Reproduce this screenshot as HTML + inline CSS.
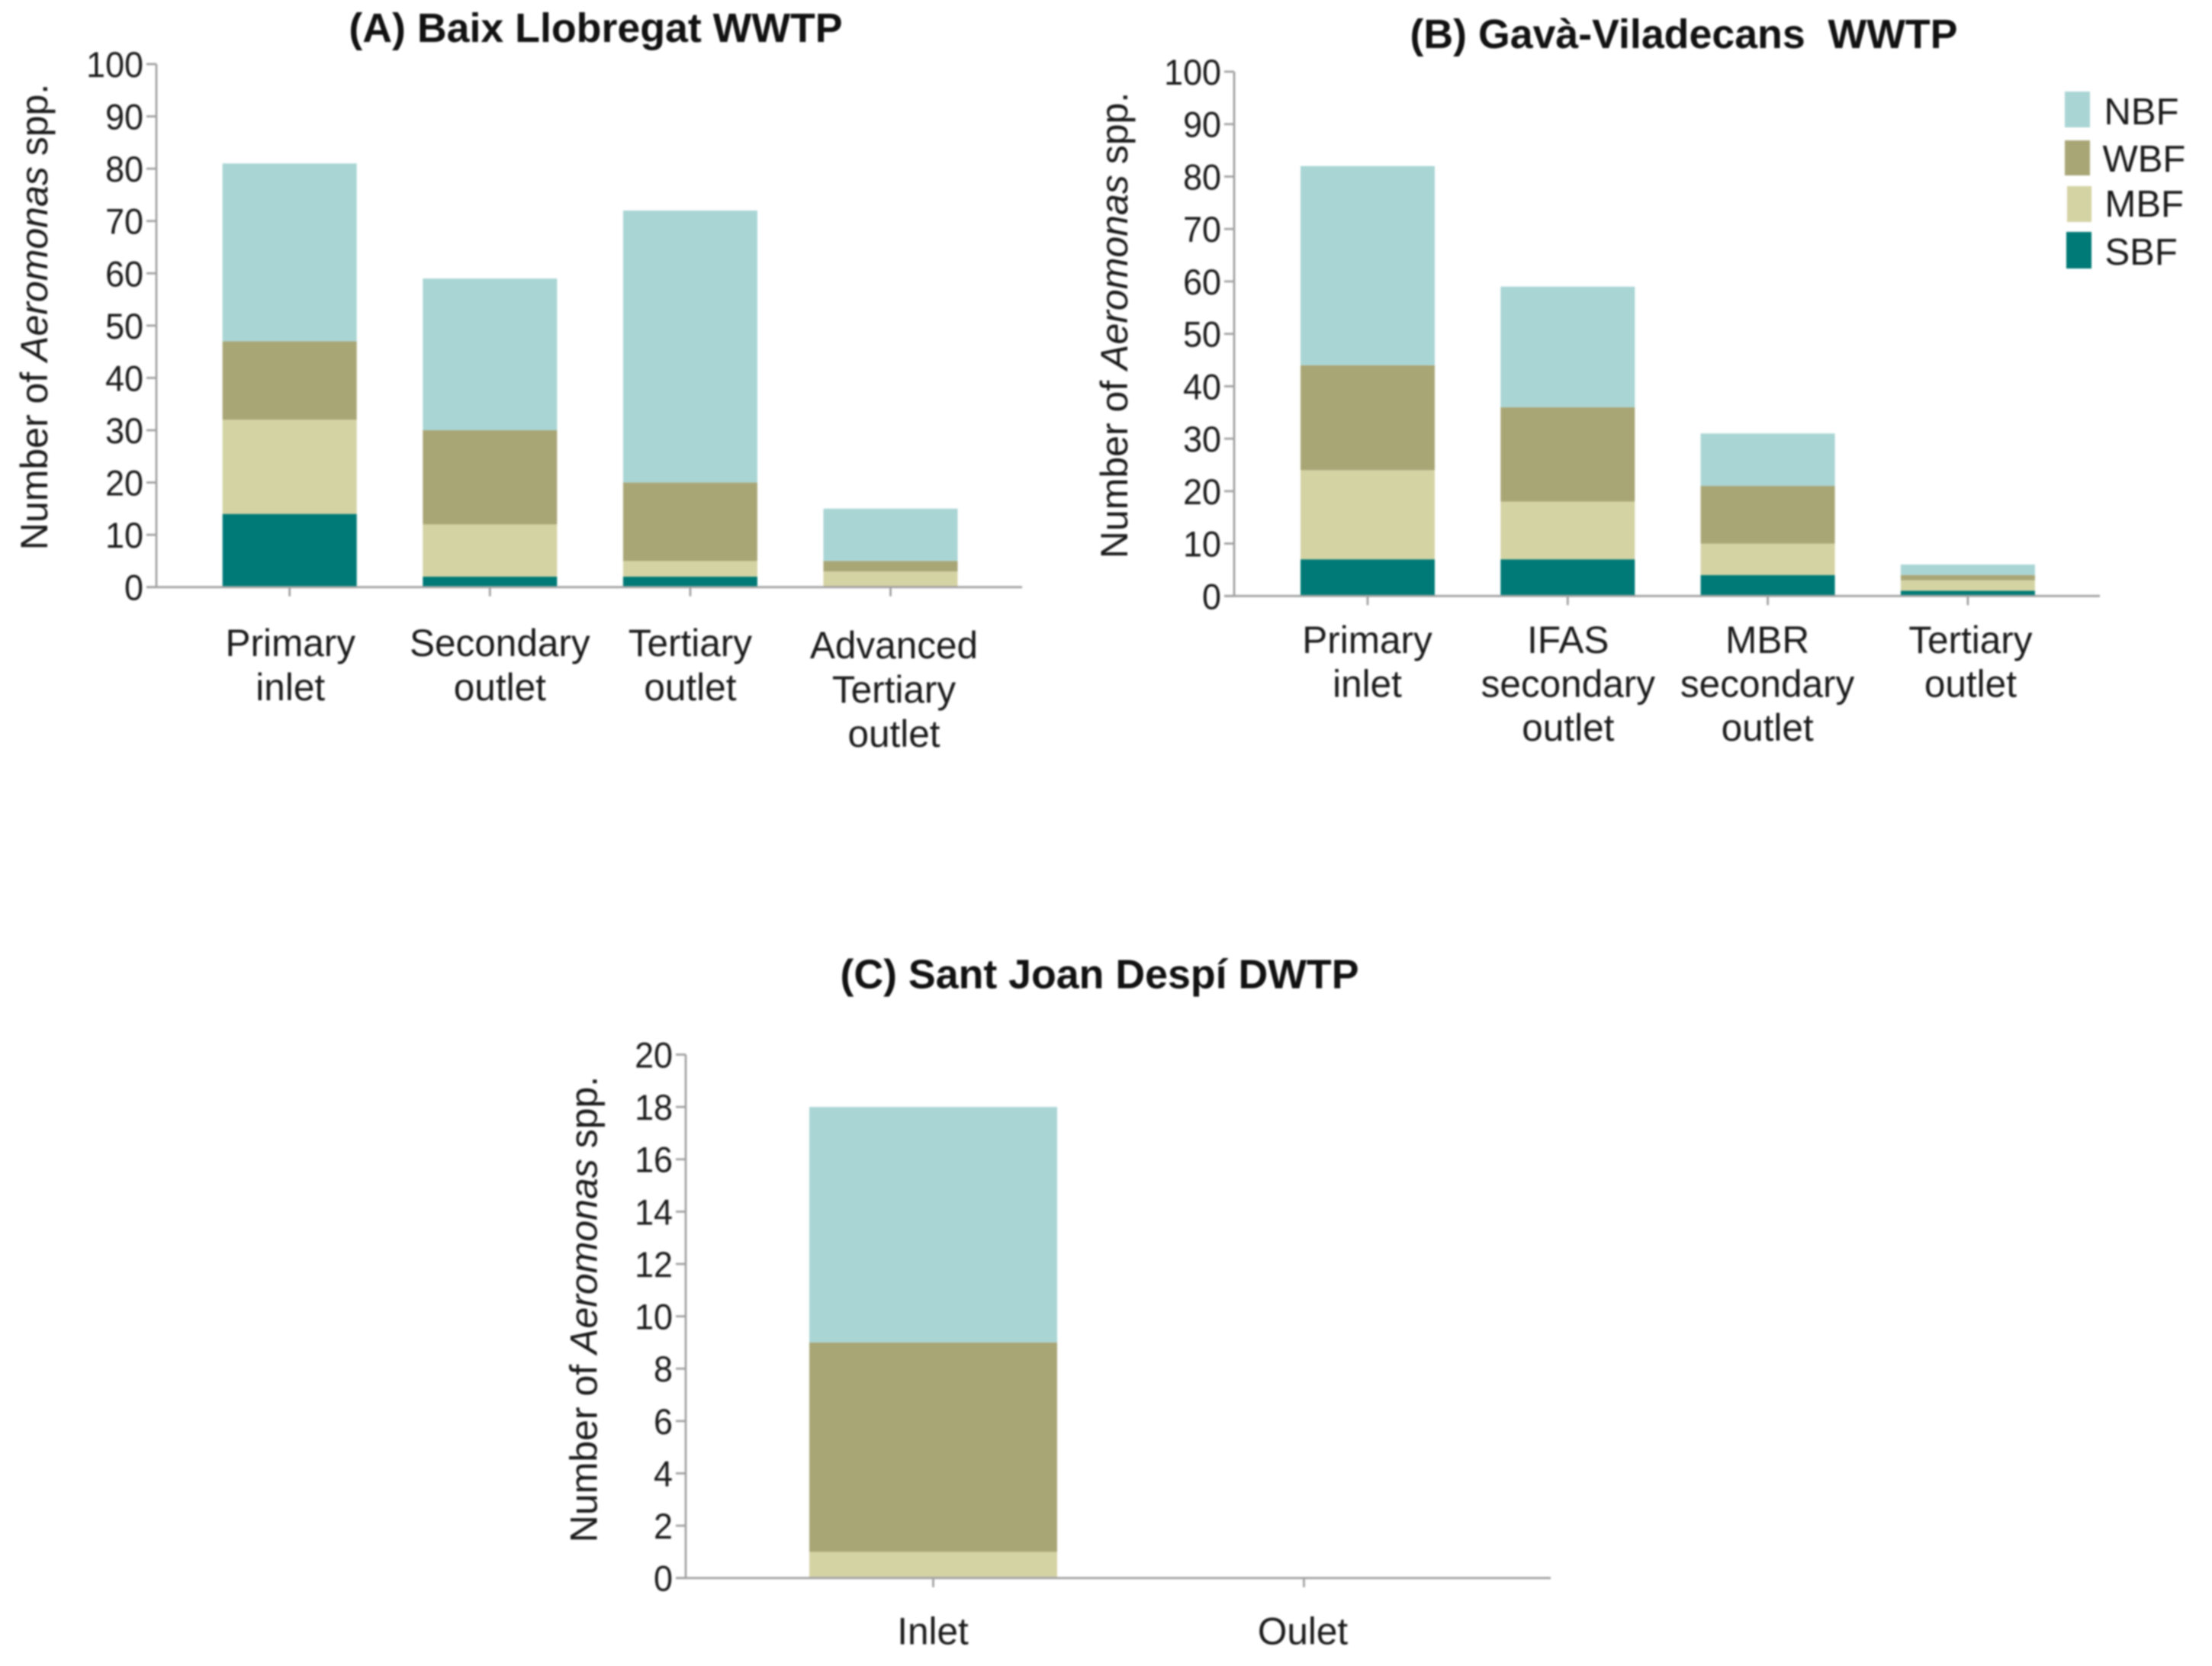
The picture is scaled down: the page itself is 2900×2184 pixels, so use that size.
<!DOCTYPE html>
<html lang="en">
<head>
<meta charset="utf-8">
<title>Aeromonas spp. biofilm formers by treatment stage</title>
<style>
  html, body { margin: 0; padding: 0; background: #fff; }
  #figure { display: block; width: 2900px; height: 2184px; filter: blur(1.1px); }
  text { font-family: "Liberation Sans", sans-serif; fill: #1a1a1a; }
  .title { font-size: 53.7px; font-weight: 700; text-anchor: middle; fill: #111; }
  .ylabel { font-size: 50px; text-anchor: middle; }
  .legend-text { font-size: 49px; }
</style>
</head>
<body>
<svg id="figure" xmlns="http://www.w3.org/2000/svg" width="2900" height="2184" viewBox="0 0 2900 2184">
  <rect x="0" y="0" width="2900" height="2184" fill="#ffffff"/>

  <text class="title" x="781" y="55">(A) Baix Llobregat WWTP</text>
  <text class="title" x="2207.5" y="63">(B) Gavà-Viladecans&#160; WWTP</text>
  <text class="title" x="1441.5" y="1295.5">(C) Sant Joan Despí DWTP</text>

  <text class="ylabel" transform="translate(62,415.5) rotate(-90)">Number of <tspan font-style="italic">Aeromonas</tspan> spp.</text>
  <text class="ylabel" transform="translate(1478,426.5) rotate(-90)">Number of <tspan font-style="italic">Aeromonas</tspan> spp.</text>
  <text class="ylabel" transform="translate(782.5,1716.5) rotate(-90)">Number of <tspan font-style="italic">Aeromonas</tspan> spp.</text>

  <g id="chart-a"></g>
  <g id="chart-b"></g>
  <g id="chart-c"></g>

  <g>
    <rect x="2707" y="120" width="33" height="47" fill="#aad5d5"/>
    <text class="legend-text" x="2758.5" y="163">NBF</text>
    <rect x="2707" y="184" width="33" height="46" fill="#a9a676"/>
    <text class="legend-text" x="2756.5" y="225">WBF</text>
    <rect x="2710" y="244" width="32" height="47" fill="#d4d3a4"/>
    <text class="legend-text" x="2759.5" y="284">MBF</text>
    <rect x="2709" y="304" width="33" height="48" fill="#007a76"/>
    <text class="legend-text" x="2759.5" y="347">SBF</text>
  </g>
</svg>

<script>
// ---- Chart data ----
const categoriesA = ["Primary\ninlet", "Secondary\noutlet", "Tertiary\noutlet", "Advanced\nTertiary\noutlet"];
const sbfA = [14, 2, 2, 0];
const mbfA = [18, 10, 3, 3];
const wbfA = [15, 18, 15, 2];
const nbfA = [34, 29, 52, 10];
const yTickLabelsA = [0, 10, 20, 30, 40, 50, 60, 70, 80, 90, 100];

const categoriesB = ["Primary\ninlet", "IFAS\nsecondary\noutlet", "MBR\nsecondary\noutlet", "Tertiary\noutlet"];
const sbfB = [7, 7, 4, 1];
const mbfB = [17, 11, 6, 2];
const wbfB = [20, 18, 11, 1];
const nbfB = [38, 23, 10, 2];
const yTickLabelsB = [0, 10, 20, 30, 40, 50, 60, 70, 80, 90, 100];

const categoriesC = ["Inlet", "Oulet"];
const sbfC = [0, 0];
const mbfC = [1, 0];
const wbfC = [8, 0];
const nbfC = [9, 0];
const yTickLabelsC = [0, 2, 4, 6, 8, 10, 12, 14, 16, 18, 20];

const seriesColors = { sbf: "#007a76", mbf: "#d4d3a4", wbf: "#a9a676", nbf: "#aad5d5" };
const SVG_NS = "http://www.w3.org/2000/svg";

function makeScaleY(layout, yMax) {
  return function (v) { return layout.y0 - (v / yMax) * (layout.y0 - layout.yTop); };
}
function makeScaleX(layout) {
  return function (i) { return layout.firstTick + layout.step * i; };
}
function line(parent, x1, y1, x2, y2) {
  const el = document.createElementNS(SVG_NS, "line");
  el.setAttribute("x1", x1);
  el.setAttribute("y1", y1);
  el.setAttribute("x2", x2);
  el.setAttribute("y2", y2);
  el.setAttribute("stroke", "#a2a2a2");
  el.setAttribute("stroke-width", "2.8");
  parent.appendChild(el);
  return el;
}

function drawChart(id, layout, categories, stacks, yTicks) {
  const root = document.getElementById(id);
  const yMax = yTicks[yTicks.length - 1];
  const sy = makeScaleY(layout, yMax);
  const sx = makeScaleX(layout);

  // stacked bars
  categories.forEach(function (cat, i) {
    let base = 0;
    ["sbf", "mbf", "wbf", "nbf"].forEach(function (key) {
      const v = stacks[key][i];
      if (v > 0) {
        const r = document.createElementNS(SVG_NS, "rect");
        r.setAttribute("x", sx(i) - layout.barWidth / 2);
        r.setAttribute("y", sy(base + v));
        r.setAttribute("width", layout.barWidth);
        r.setAttribute("height", sy(base) - sy(base + v));
        r.setAttribute("fill", seriesColors[key]);
        
        
        root.appendChild(r);
      }
      base += v;
    });
  });

  // axes
  const yAxis = line(root, layout.x0, layout.yTop, layout.x0, layout.y0);
  
  
  const xAxis = line(root, layout.x0 - 13, layout.y0, layout.xEnd, layout.y0);
  
  

  // y ticks + labels
  yTicks.forEach(function (t) {
    const y = sy(t);
    const tick = line(root, layout.x0 - 13, y, layout.x0, y);
    
    
    const label = document.createElementNS(SVG_NS, "text");
    label.setAttribute("transform", "translate(" + (layout.x0 - 17) + "," + (y + 17) + ") scale(0.955,1)");
    label.setAttribute("text-anchor", "end");
    label.setAttribute("font-size", "47");
    label.textContent = String(t);
    
    
    root.appendChild(label);
  });

  // x ticks + labels
  categories.forEach(function (cat, i) {
    const x = sx(i);
    const tick = line(root, x, layout.y0, x, layout.y0 + 12);
    
    
    const cx = x + layout.labelNudge[i];
    cat.split("\n").forEach(function (part, k) {
      const label = document.createElementNS(SVG_NS, "text");
      const ly = layout.labelBase + layout.labelRaise[i] + k * layout.lineHeight;
      label.setAttribute("transform", "translate(" + cx + "," + ly + ") scale(0.99,1)");
      label.setAttribute("text-anchor", "middle");
      label.setAttribute("font-size", "50");
      label.textContent = part;
      
      
      root.appendChild(label);
    });
  });
}

const layoutA = { x0: 205, xEnd: 1340, y0: 769.7, yTop: 84, firstTick: 379.7, step: 262.6, barWidth: 176, labelBase: 860, lineHeight: 58, labelNudge: [1, 13, 0, 4.5], labelRaise: [0, 0, 0, 3] };
const layoutB = { x0: 1618, xEnd: 2753, y0: 781.3, yTop: 94, firstTick: 1793, step: 262.3, barWidth: 176, labelBase: 856, lineHeight: 57.5, labelNudge: [-0.5, 0.5, -0.5, 3.5], labelRaise: [0, 0, 0, 0] };
const layoutC = { x0: 899, xEnd: 2033, y0: 2068.7, yTop: 1382.5, firstTick: 1223.5, step: 486, barWidth: 325, labelBase: 2155.5, lineHeight: 57, labelNudge: [-0.5, -1.5], labelRaise: [0, 0] };

drawChart("chart-a", layoutA, categoriesA, { sbf: sbfA, mbf: mbfA, wbf: wbfA, nbf: nbfA }, yTickLabelsA);
drawChart("chart-b", layoutB, categoriesB, { sbf: sbfB, mbf: mbfB, wbf: wbfB, nbf: nbfB }, yTickLabelsB);
drawChart("chart-c", layoutC, categoriesC, { sbf: sbfC, mbf: mbfC, wbf: wbfC, nbf: nbfC }, yTickLabelsC);
</script>
</body>
</html>
